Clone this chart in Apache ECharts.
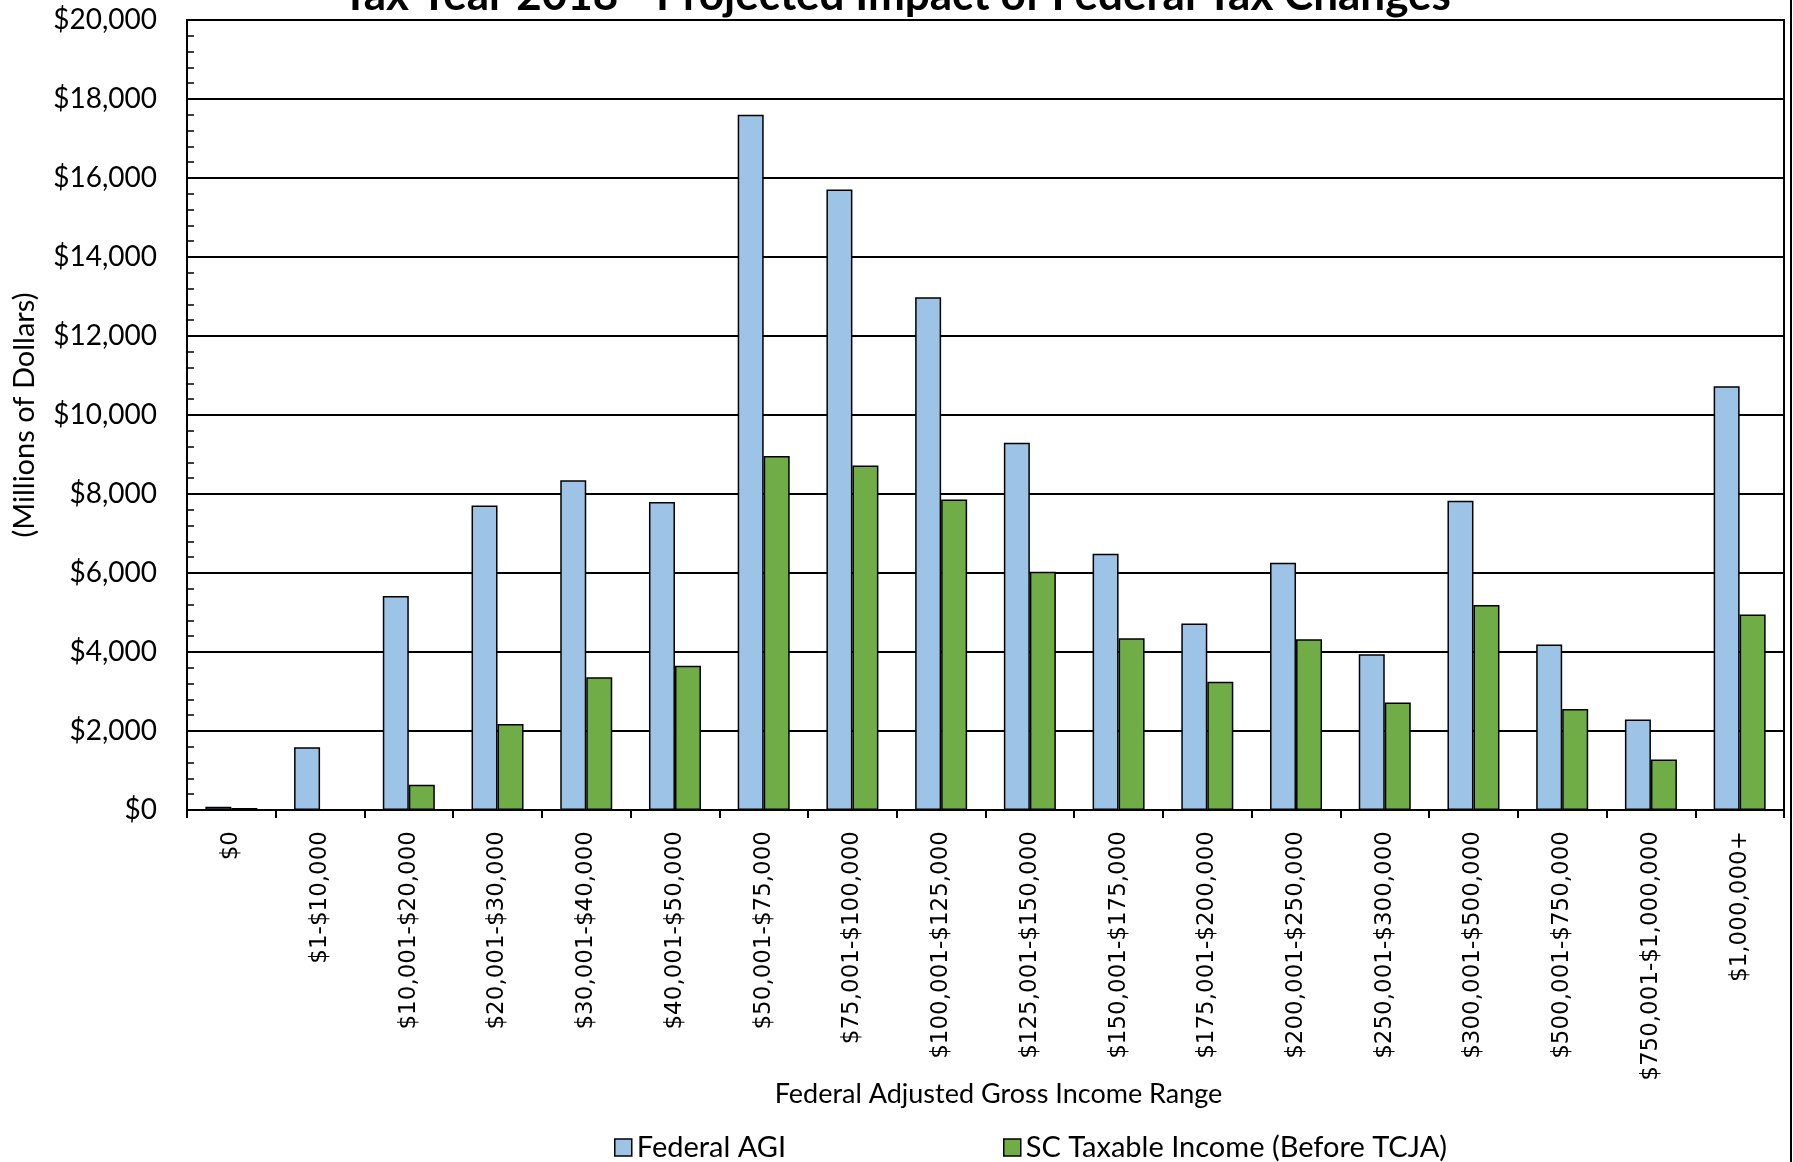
<!DOCTYPE html>
<html>
<head>
<meta charset="utf-8">
<script src="https://cdn.jsdelivr.net/npm/echarts@6/dist/echarts.min.js"></script>
<style>
  html, body { margin: 0; padding: 0; background: #ffffff; }
  #chart { width: 1793px; height: 1162px; }
</style>
</head>
<body>
<div id="chart"></div>
<script>
// Income brackets (Federal AGI ranges)
const categories = [
  '$0', '$1-$10,000', '$10,001-$20,000', '$20,001-$30,000', '$30,001-$40,000',
  '$40,001-$50,000', '$50,001-$75,000', '$75,001-$100,000', '$100,001-$125,000',
  '$125,001-$150,000', '$150,001-$175,000', '$175,001-$200,000', '$200,001-$250,000',
  '$250,001-$300,000', '$300,001-$500,000', '$500,001-$750,000',
  '$750,001-$1,000,000', '$1,000,000+'
];

// Millions of dollars
const federalAGI = [85, 1590, 5420, 7710, 8350, 7800, 17600, 15710, 12980, 9300, 6490, 4720, 6260, 3940, 7830, 4190, 2290, 10730];
const scTaxable = [50, 10, 640, 2180, 3360, 3650, 8960, 8720, 7860, 6030, 4350, 3250, 4320, 2720, 5190, 2560, 1280, 4950];

// Value axis ticks
const yMin = 0;
const yMax = 20000;
const yStep = 2000;

const seriesNames = ['Federal AGI', 'SC Taxable Income (Before TCJA)'];
const titleText = 'Tax Year 2018 - Projected Impact of Federal Tax Changes';
const xAxisTitle = 'Federal Adjusted Gross Income Range';
const yAxisTitle = '(Millions of Dollars)';

const uiFont = "Lato, 'Open Sans', sans-serif";

function dollars(v) {
  return '$' + Math.round(v).toLocaleString('en-US');
}

const chart = echarts.init(document.getElementById('chart'), null, { renderer: 'canvas' });

const legendText = { fontFamily: uiFont, fontSize: 29, color: '#000' };
const legendItem = { borderColor: '#000', borderWidth: 1.5 };

chart.setOption({
  animation: false,
  backgroundColor: '#ffffff',
  title: {
    text: titleText,
    left: 'center',
    top: -31,
    textStyle: { fontFamily: uiFont, fontSize: 44, fontWeight: 'bold', color: '#000' }
  },
  legend: [
    {
      data: [seriesNames[0]],
      left: 609, top: 1128,
      itemWidth: 17, itemHeight: 17,
      icon: 'rect',
      itemStyle: legendItem,
      textStyle: legendText
    },
    {
      data: [seriesNames[1]],
      left: 998, top: 1128,
      itemWidth: 17, itemHeight: 17,
      icon: 'rect',
      itemStyle: legendItem,
      textStyle: legendText
    }
  ],
  grid: {
    left: 187, top: 20, right: 9, bottom: 352,
    containLabel: false,
    outerBoundsMode: 'none',
    show: true, borderColor: '#000', borderWidth: 2, backgroundColor: 'transparent'
  },
  xAxis: {
    type: 'category',
    data: categories,
    boundaryGap: true,
    name: xAxisTitle,
    nameLocation: 'middle',
    nameGap: 271,
    nameMoveOverlap: false,
    nameTextStyle: { fontFamily: uiFont, fontSize: 27, color: '#000', padding: [0, 0, 0, 26] },
    axisLine: { lineStyle: { color: '#000', width: 2 } },
    axisTick: { show: true, inside: false, length: 8, lineStyle: { color: '#000', width: 2 } },
    axisLabel: {
      rotate: 90, interval: 0, margin: 21,
      fontFamily: "'DejaVu Sans', sans-serif", fontSize: 23, color: '#000'
    }
  },
  yAxis: {
    type: 'value',
    min: yMin, max: yMax, interval: yStep,
    name: yAxisTitle,
    nameLocation: 'middle',
    nameRotate: 90,
    nameGap: 148,
    nameMoveOverlap: false,
    nameTextStyle: { fontFamily: uiFont, fontSize: 29, color: '#000' },
    axisLine: { show: true, lineStyle: { color: '#000', width: 2 } },
    axisTick: { show: true, inside: true, length: 7, lineStyle: { color: '#000', width: 1.5 } },
    minorTick: { show: true, splitNumber: 5, length: 7, lineStyle: { color: '#000', width: 1.5 } },
    splitLine: { show: true, lineStyle: { color: '#000', width: 2 } },
    axisLabel: {
      margin: 30, formatter: dollars,
      fontFamily: uiFont, fontSize: 28, color: '#000'
    }
  },
  series: [
    {
      name: seriesNames[0],
      type: 'bar',
      data: federalAGI,
      barWidth: 26,
      barGap: '0%',
      itemStyle: { color: '#9DC3E6', borderColor: '#000', borderWidth: 1.5 }
    },
    {
      name: seriesNames[1],
      type: 'bar',
      data: scTaxable,
      barWidth: 26,
      barGap: '0%',
      itemStyle: { color: '#70AD47', borderColor: '#000', borderWidth: 1.5 }
    }
  ],
  graphic: [
    {
      type: 'line',
      shape: { x1: 1791, y1: 0, x2: 1791, y2: 1162 },
      style: { stroke: '#000', lineWidth: 2 },
      silent: true
    }
  ]
});
</script>
</body>
</html>
